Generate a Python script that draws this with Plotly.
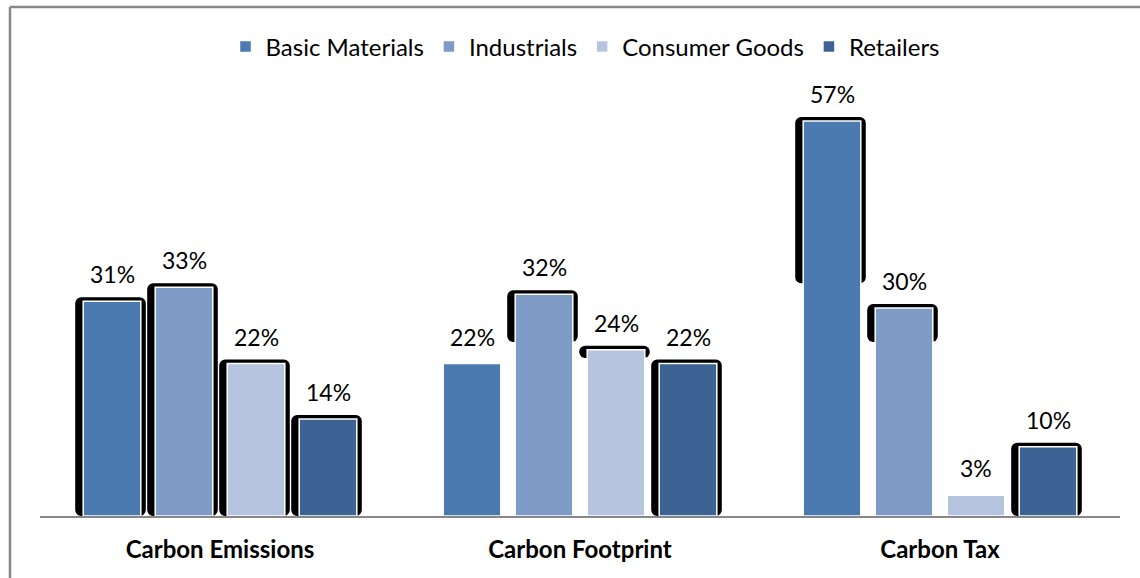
import plotly.graph_objects as go
import numpy as np

categories = ["Carbon Emissions", "Carbon Footprint", "Carbon Tax"]
series_names = ["Basic Materials", "Industrials", "Consumer Goods", "Retailers"]
basic_materials = [31, 22, 57]
industrials = [33, 32, 30]
consumer_goods = [22, 24, 3]
retailers = [14, 22, 10]
series_values = [basic_materials, industrials, consumer_goods, retailers]
series_colors = ["#4A7AB0", "#7D9BC6", "#B7C4DF", "#3D6394"]

# Dark bevel behind each bar: "full" runs down to the axis, a number is how
# many percentage points below the bar top it reaches, None means no bevel.
bevel_bm = ["full", None, 23.4]
bevel_ind = ["full", 6.9, 4.9]
bevel_cons = ["full", 1.2, None]
bevel_ret = ["full", "full", "full"]
bevels = [bevel_bm, bevel_ind, bevel_cons, bevel_ret]

FONT = "Lato"
W, H = 1140, 578
M_L, M_R, M_T, M_B = 40, 20, 80, 62
plot_w = W - M_L - M_R
plot_h = H - M_T - M_B
px_per_pct = 6.93
y_max = plot_h / px_per_pct
unit_px = plot_w / 3.0          # pixels per category unit

bar_w = 0.16
slot = 0.2
centers = [(i - 1.5) * slot for i in range(4)]
groups = np.arange(len(categories))

fig = go.Figure()

# bevel shapes drawn first so the coloured bars sit on top
pad_l, pad_r, pad_t = 8 / unit_px, 5 / unit_px, 4 / px_per_pct
for i, (vals, bev) in enumerate(zip(series_values, bevels)):
    xs, lens, bases = [], [], []
    for g, (v, b) in enumerate(zip(vals, bev)):
        if b is None:
            continue
        base = 0 if b == "full" else v - b
        xs.append(groups[g] + centers[i])
        bases.append(base)
        lens.append(v + pad_t - base)
    fig.add_trace(go.Bar(
        x=xs, y=lens, base=bases,
        width=bar_w + pad_l + pad_r,
        offset=-(bar_w / 2 + pad_l),
        marker=dict(color="#000000", line=dict(width=0), cornerradius=6),
        showlegend=False, hoverinfo="skip",
    ))

for i, (name, vals, col) in enumerate(zip(series_names, series_values, series_colors)):
    fig.add_trace(go.Bar(
        name=name,
        x=groups + centers[i], y=vals,
        width=bar_w,
        marker=dict(color=col, line=dict(color="#FFFFFF", width=1.5)),
    ))
    for g, v in enumerate(vals):
        fig.add_annotation(
            x=groups[g] + centers[i], y=v, text=f"{v}%",
            showarrow=False, yanchor="middle", yshift=27,
            font=dict(family=FONT, size=23, color="#000000"),
        )

# outer chart frame: top and left edges
frame_x = (10 - M_L) / plot_w
frame_y = (H - M_B - 7) / plot_h
frame_line = dict(color="#878787", width=2.5)
fig.add_shape(type="line", xref="paper", yref="paper",
              x0=frame_x, x1=1.2, y0=frame_y, y1=frame_y,
              line=frame_line, layer="below")
fig.add_shape(type="line", xref="paper", yref="paper",
              x0=frame_x, x1=frame_x, y0=frame_y, y1=-0.3,
              line=frame_line, layer="below")

fig.update_layout(
    width=W, height=H,
    margin=dict(l=M_L, r=M_R, t=M_T, b=M_B),
    barmode="overlay",
    paper_bgcolor="#FFFFFF", plot_bgcolor="#FFFFFF",
    showlegend=True,
    legend=dict(
        orientation="h", x=(585 - M_L) / plot_w, xanchor="center",
        y=1 + (M_T - 47) / plot_h, yanchor="middle",
        font=dict(family=FONT, size=24, color="#000000"),
        traceorder="normal", bgcolor="rgba(0,0,0,0)",
    ),
    xaxis=dict(
        range=[-0.5, 2.5], tickvals=list(groups), ticktext=categories,
        showgrid=False, zeroline=False, showline=True,
        linecolor="#878787", linewidth=2, ticks="",
        tickfont=dict(family=FONT, size=24, color="#000000", weight="bold"),
        ticklabelstandoff=11,
    ),
    yaxis=dict(
        range=[0, y_max], visible=False, showgrid=False, zeroline=False,
    ),
)

fig.write_html("out.html")
